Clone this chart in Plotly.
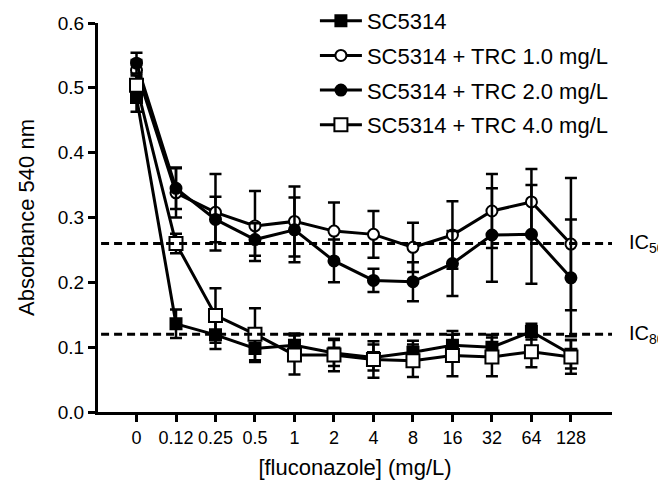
import plotly.graph_objects as go

conc_labels = ["0", "0.12", "0.25", "0.5", "1", "2", "4", "8", "16", "32", "64", "128"]

sc5314 = [0.485, 0.136, 0.119, 0.098, 0.103, 0.091, 0.084, 0.092, 0.103, 0.100, 0.124, 0.089]
sc5314_err = [0.022, 0.022, 0.022, 0.021, 0.018, 0.020, 0.020, 0.018, 0.022, 0.019, 0.012, 0.022]

trc1 = [0.527, 0.338, 0.308, 0.287, 0.294, 0.279, 0.274, 0.254, 0.273, 0.310, 0.324, 0.259]
trc1_err = [0.016, 0.038, 0.059, 0.054, 0.054, 0.044, 0.036, 0.038, 0.052, 0.057, 0.051, 0.102]

trc2 = [0.538, 0.345, 0.297, 0.266, 0.281, 0.233, 0.203, 0.201, 0.229, 0.273, 0.274, 0.207]
trc2_err = [0.016, 0.032, 0.035, 0.025, 0.050, 0.033, 0.018, 0.030, 0.050, 0.072, 0.076, 0.090]

trc4 = [0.504, 0.260, 0.149, 0.120, 0.088, 0.088, 0.081, 0.079, 0.087, 0.085, 0.093, 0.085]
trc4_err = [0.015, 0.015, 0.042, 0.040, 0.030, 0.025, 0.028, 0.025, 0.032, 0.030, 0.024, 0.026]

series_names = ["SC5314", "SC5314 + TRC 1.0 mg/L", "SC5314 + TRC 2.0 mg/L", "SC5314 + TRC 4.0 mg/L"]

ic_levels = [0.26, 0.12]
ic_labels = ["IC<sub>50</sub>", "IC<sub>80</sub>"]

y_ticks = [0.0, 0.1, 0.2, 0.3, 0.4, 0.5, 0.6]

FONT = "Liberation Sans, Arial, sans-serif"

fig = go.Figure()

specs = [
    (series_names[0], sc5314, sc5314_err, "square", "black", 11),
    (series_names[1], trc1, trc1_err, "circle", "white", 11),
    (series_names[2], trc2, trc2_err, "circle", "black", 11),
    (series_names[3], trc4, trc4_err, "square", "white", 13),
]

for i, (name, vals, errs, sym, fill, size) in enumerate(specs):
    fig.add_trace(go.Scatter(
        x=conc_labels, y=vals, name=name, mode="lines+markers",
        legendgroup=f"g{i}",
        line=dict(color="black", width=3),
        marker=dict(symbol=sym, size=size, color=fill, line=dict(color="black", width=2)),
        error_y=dict(type="data", array=errs, visible=True, color="black", thickness=2.5, width=6),
    ))

for lvl, lab in zip(ic_levels, ic_labels):
    fig.add_shape(type="line", xref="paper", yref="y", x0=0.006, x1=1.0, y0=lvl, y1=lvl,
                  line=dict(color="black", width=3, dash="8px,5px"))
    fig.add_annotation(xref="paper", yref="y", x=1.031, y=lvl, text=lab,
                       showarrow=False, xanchor="left", yanchor="middle", borderpad=0,
                       font=dict(family=FONT, size=20, color="black"))

fig.update_layout(
    width=666, height=499,
    margin=dict(l=90, r=62, t=15, b=95, autoexpand=False),
    paper_bgcolor="white", plot_bgcolor="white",
    font=dict(family=FONT, size=18, color="black"),
    showlegend=True,
    legend=dict(x=0.422, y=1.059, xanchor="left", yanchor="top",
                font=dict(family=FONT, size=22, color="black"),
                bgcolor="rgba(0,0,0,0)", tracegroupgap=3, itemwidth=42),
    xaxis=dict(type="category", range=[-0.975, 12.04], showline=True, linewidth=3, linecolor="black",
               ticks="outside", ticklen=7, tickwidth=3, tickcolor="black", showgrid=False, zeroline=False,
               automargin=False, tickfont=dict(family=FONT, size=18),
               title=dict(text="[fluconazole] (mg/L)", font=dict(family=FONT, size=22), standoff=14)),
    yaxis=dict(range=[0, 0.6], tickvals=y_ticks, tickformat=".1f", showline=True, linewidth=3,
               linecolor="black", ticks="outside", ticklen=7, tickwidth=3, tickcolor="black",
               showgrid=False, zeroline=False, automargin=False, tickfont=dict(family=FONT, size=19),
               title=dict(text="Absorbance 540 nm", font=dict(family=FONT, size=22), standoff=18)),
)

fig.write_html("out.html")
